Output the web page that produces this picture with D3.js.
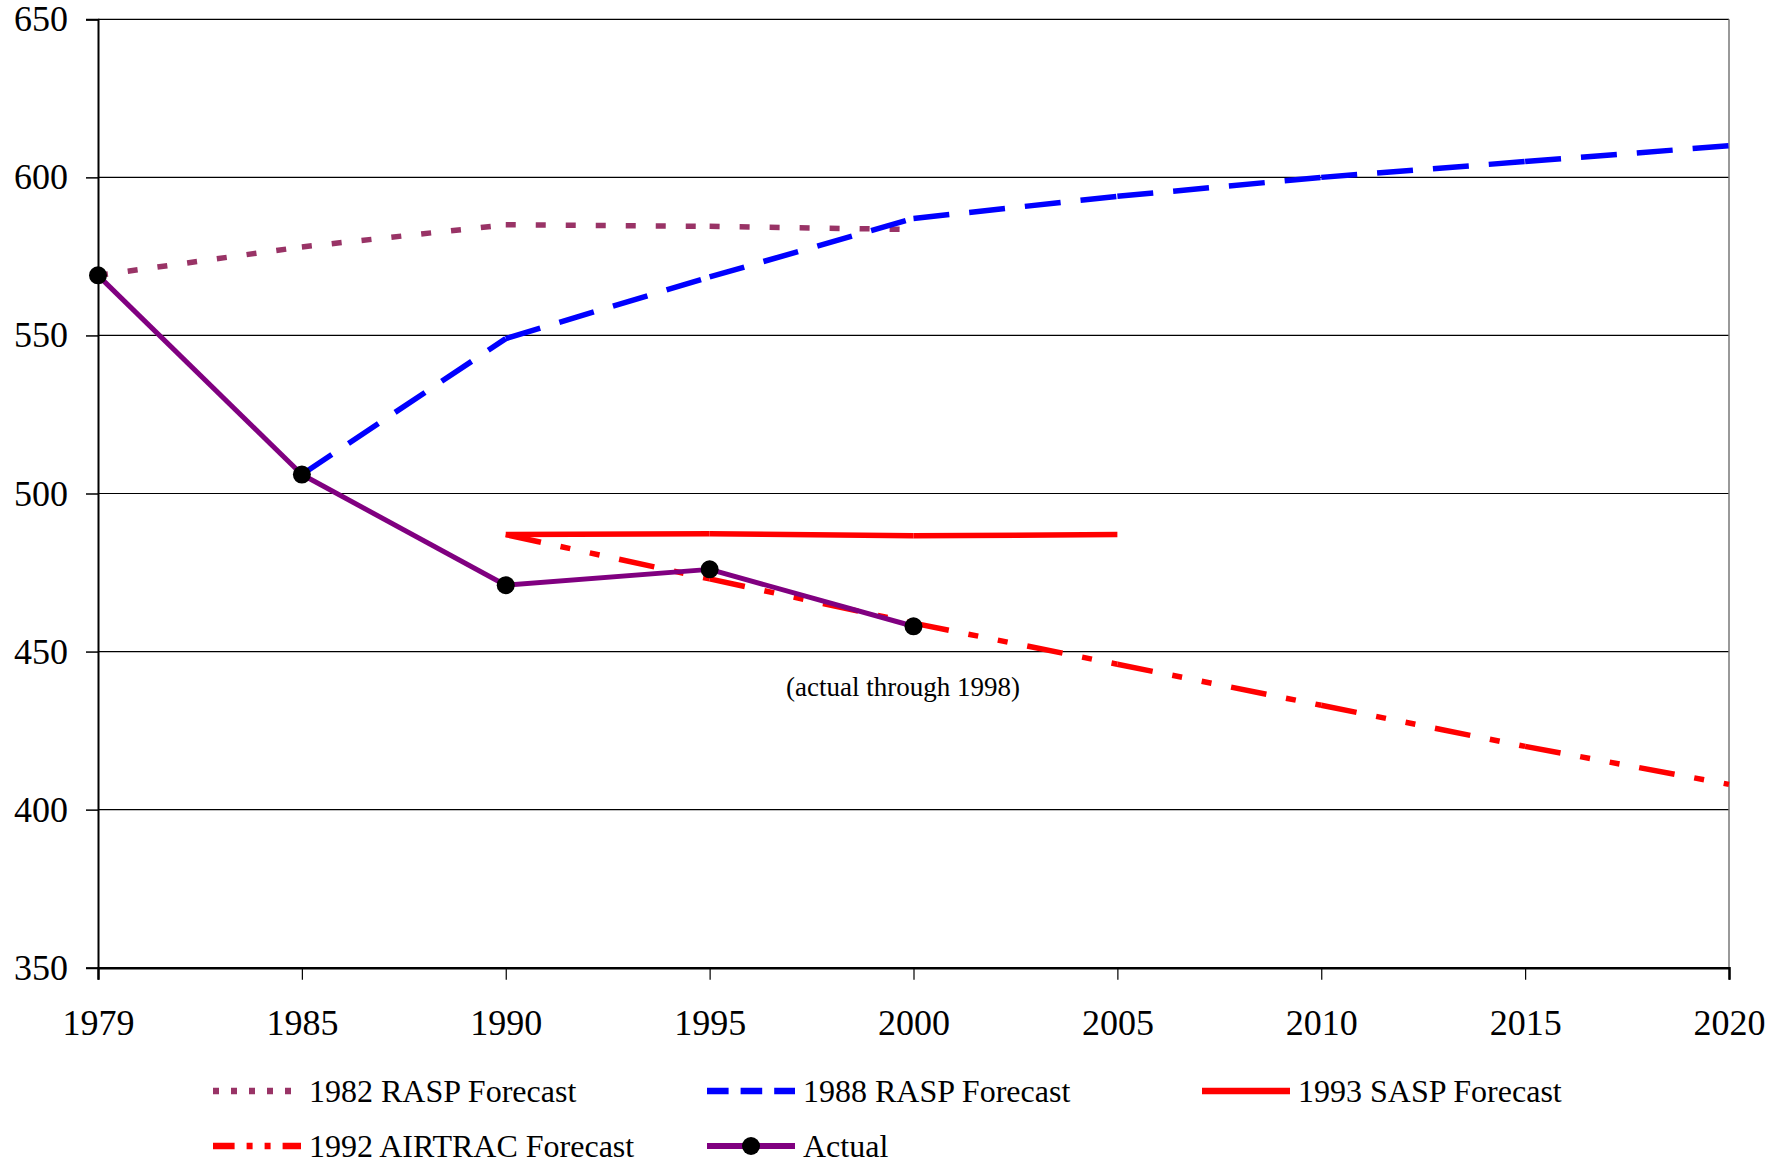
<!DOCTYPE html>
<html>
<head>
<meta charset="utf-8">
<script src="https://cdn.jsdelivr.net/npm/d3@7"></script>
<style>
  html, body { margin: 0; padding: 0; background: #fff; }
  svg { display: block; font-family: "Liberation Serif", "Times New Roman", serif; }
</style>
</head>
<body>
<svg id="chart" width="1787" height="1165"></svg>
<script>
// Category axis (forecast years)
const years = ["1979", "1985", "1990", "1995", "2000", "2005", "2010", "2015", "2020"];
const yTicks = [350, 400, 450, 500, 550, 600, 650];

// Series values, aligned with years (null = no value)
const rasp1982    = [569, 578, 585, 584.5, 583.5, null, null, null, null];
const rasp1988    = [null, 506, 549, 568.5, 587, 594, 600, 605, 610];
const sasp1993    = [null, null, 487, 487.3, 486.6, 487, null, null, null];
const airtrac1992 = [null, null, 487, 473, 459, 446, 433, 420, 408];
const actual      = [569, 506, 471, 476, 458, null, null, null, null];

const seriesNames = ["1982 RASP Forecast", "1988 RASP Forecast", "1993 SASP Forecast", "1992 AIRTRAC Forecast", "Actual"];

const series = [
  { name: seriesNames[0], values: rasp1982,    color: "#993366", width: 5.5, dash: "10,20" },
  { name: seriesNames[1], values: rasp1988,    color: "#0000FF", width: 5.5, dash: "36,20" },
  { name: seriesNames[2], values: sasp1993,    color: "#FF0000", width: 5.5, dash: null },
  { name: seriesNames[3], values: airtrac1992, color: "#FF0000", width: 5.5, dash: "36,20,10,20,10,20" },
  { name: seriesNames[4], values: actual,      color: "#800080", width: 5, dash: null, markers: true }
];

const svg = d3.select("#chart");
const plotLeft = 98, plotRight = 1729, plotTop = 19.3, plotBottom = 967.7;

const x = d3.scalePoint().domain(years).range([plotLeft, plotRight]);
const y = d3.scaleLinear().domain([350, 650]).range([plotBottom, plotTop]);

// Horizontal gridlines
svg.append("g")
  .selectAll("line")
  .data(yTicks)
  .join("line")
  .attr("x1", plotLeft).attr("x2", plotRight)
  .attr("y1", d => y(d)).attr("y2", d => y(d))
  .attr("stroke", "#000").attr("stroke-width", 1.2);

// Right border of the plot area
svg.append("line")
  .attr("x1", plotRight).attr("x2", plotRight).attr("y1", plotTop).attr("y2", plotBottom)
  .attr("stroke", "#777").attr("stroke-width", 1.5);

// Y axis
const yAxis = svg.append("g")
  .attr("transform", `translate(${plotLeft},0)`)
  .call(d3.axisLeft(y).tickValues(yTicks).tickSize(12).tickPadding(18).tickFormat(d3.format("d")));
yAxis.select(".domain").attr("stroke", "#000").attr("stroke-width", 2);
yAxis.selectAll(".tick line").attr("stroke", "#000").attr("stroke-width", 1.5);
yAxis.selectAll(".tick text")
  .attr("font-family", "Liberation Serif, serif").attr("font-size", 36).attr("fill", "#000");

// X axis
const xAxis = svg.append("g")
  .attr("transform", `translate(0,${plotBottom})`)
  .call(d3.axisBottom(x).tickSize(12).tickPadding(30));
xAxis.select(".domain").attr("stroke", "#000").attr("stroke-width", 2.5);
xAxis.selectAll(".tick line").attr("stroke", "#000").attr("stroke-width", 1.2);
xAxis.selectAll(".tick text")
  .attr("font-family", "Liberation Serif, serif").attr("font-size", 36).attr("fill", "#000");

// Lines: each segment is its own path so the dash pattern restarts at every point
const line = d3.line().x(d => x(d.year)).y(d => y(d.value));
const linesG = svg.append("g");
series.forEach(s => {
  const pts = years.map((yr, i) => ({ year: yr, value: s.values[i] })).filter(d => d.value != null);
  const segs = d3.pairs(pts);
  linesG.append("g")
    .selectAll("path")
    .data(segs)
    .join("path")
    .attr("d", d => line(d))
    .attr("fill", "none")
    .attr("stroke", s.color)
    .attr("stroke-width", s.width)
    .attr("stroke-linecap", "butt")
    .attr("stroke-linejoin", "round")
    .attr("stroke-dasharray", s.dash);
  if (s.markers) {
    linesG.append("g")
      .selectAll("circle")
      .data(pts)
      .join("circle")
      .attr("cx", d => x(d.year)).attr("cy", d => y(d.value))
      .attr("r", 9).attr("fill", "#000");
  }
});

// Annotation
svg.append("text")
  .attr("x", 903).attr("y", 696)
  .attr("text-anchor", "middle")
  .attr("font-size", 27)
  .text("(actual through 1998)");

// Legend
const legendPos = [
  { x: 213, y: 1091 }, { x: 707, y: 1091 }, { x: 1202, y: 1091 },
  { x: 213, y: 1146 }, { x: 707, y: 1146 }
];
const legend = svg.append("g");
series.forEach((s, i) => {
  const p = legendPos[i];
  const g = legend.append("g").attr("transform", `translate(${p.x},${p.y})`);
  g.append("line")
    .attr("x1", 0).attr("x2", 88).attr("y1", 0).attr("y2", 0)
    .attr("stroke", s.color).attr("stroke-width", s.width + 1)
    .attr("stroke-dasharray", s.dash ? s.dash.split(",").map(v => +v * 0.6).join(",") : null);
  if (s.markers) g.append("circle").attr("cx", 44).attr("cy", 0).attr("r", 9).attr("fill", "#000");
  g.append("text")
    .attr("x", 96).attr("y", 11)
    .attr("font-size", 32)
    .text(s.name);
});
</script>
</body>
</html>
